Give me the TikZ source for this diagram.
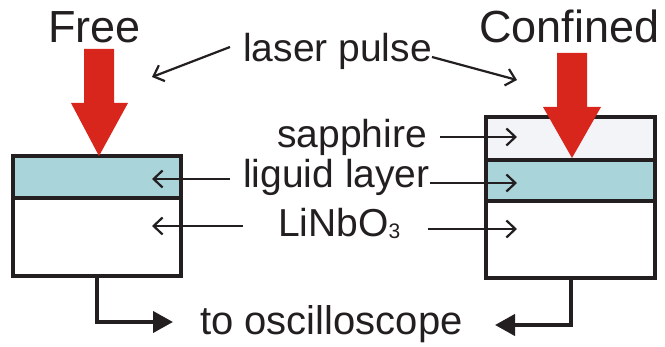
\documentclass[tikz,border=0pt]{standalone}
\usepackage{fontspec}
\setmainfont{Liberation Sans}
\usetikzlibrary{arrows.meta}
\definecolor{redarrow}{HTML}{D9261C}
\definecolor{liquid}{HTML}{A8D4DA}
\definecolor{sapph}{HTML}{F2F4F8}
\definecolor{ink}{HTML}{231F20}
\begin{document}
\begin{tikzpicture}[x=1pt,y=-1pt,
  layer/.style={draw=ink, line width=4pt, rectangle, inner sep=0pt, outer sep=0pt, anchor=north west},
  lbl/.style={anchor=base west, inner sep=0pt, text=ink, font=\fontsize{39}{44}\selectfont},
  title/.style={anchor=base west, inner sep=0pt, text=ink, font=\fontsize{45}{50}\selectfont},
  pointer/.style={draw=ink, line width=2.2pt, -{Straight Barb[length=9pt,width=17pt]}},
  wire/.style={draw=ink, line width=4pt, -{Triangle[length=20pt,width=21pt]}},
  pulse/.style={fill=redarrow, draw=none}]
\useasboundingbox (0,0) rectangle (665,347);

% left (free) sample
\node[layer, fill=liquid, minimum width=168pt, minimum height=42pt] (lliq) at (13,156) {};
\node[layer, fill=white, minimum width=168pt, minimum height=78pt] (lsub) at (13,198) {};
% right (confined) sample
\node[layer, fill=sapph, minimum width=169pt, minimum height=43pt] (rsap) at (486,117) {};
\node[layer, fill=liquid, minimum width=169pt, minimum height=41pt] (rliq) at (486,160) {};
\node[layer, fill=white, minimum width=169pt, minimum height=77pt] (rsub) at (486,201) {};

% laser pulses
\fill[pulse] (84,49) -- (114,49) -- (114,103) -- (128,103) -- (99,156) -- (71,103) -- (84,103) -- cycle;
\fill[pulse] (557,53) -- (587,53) -- (587,107) -- (601,107) -- (572,158) -- (543,107) -- (557,107) -- cycle;

% titles and labels
\node[title] (free) at (48,43) {Free};
\node[title] (conf) at (479,43) {Confined};
\node[lbl] (lp) at (243,62) {laser pulse};
\node[lbl] (sap) at (277,148) {sapphire};
\node[lbl] (liq) at (243,188) {liguid layer};
\node[lbl] (lnb) at (278,237) {LiNbO\raisebox{-1.5pt}{\fontsize{21}{21}\selectfont 3}};
\node[lbl, font=\fontsize{40}{45}\selectfont] (osc) at (200,335) {to oscilloscope};

% pointer targets
\coordinate (tLfree) at (152,77);
\coordinate (tLconf) at (517,80);
\coordinate (tSap) at (517,137);
\coordinate (tLiqL) at (152,179);
\coordinate (tLiqR) at (517,183);
\coordinate (tSubL) at (152,226);
\coordinate (tSubR) at (517,229);
\coordinate (lw) at (173,322);
\coordinate (rw) at (495,325);

% pointers
\draw[pointer] ([xshift=-13pt,yshift=15pt]lp.base west) -- (tLfree);
\draw[pointer] ([xshift=0pt,yshift=5pt]lp.base east) -- (tLconf);
\draw[pointer] ([xshift=13pt,yshift=11pt]sap.base east) -- (tSap);
\draw[pointer] ([xshift=-13pt,yshift=9pt]liq.base west) -- (tLiqL);
\draw[pointer] ([xshift=0pt,yshift=5pt]liq.base east) -- (tLiqR);
\draw[pointer] ([xshift=-35pt,yshift=11pt]lnb.base west) -- (tSubL);
\draw[pointer] ([xshift=27pt,yshift=8pt]lnb.base east) -- (tSubR);

% wires
\draw[wire] (lsub.south) |- (lw);
\draw[wire] (rsub.south) |- (rw);
\end{tikzpicture}
\end{document}
